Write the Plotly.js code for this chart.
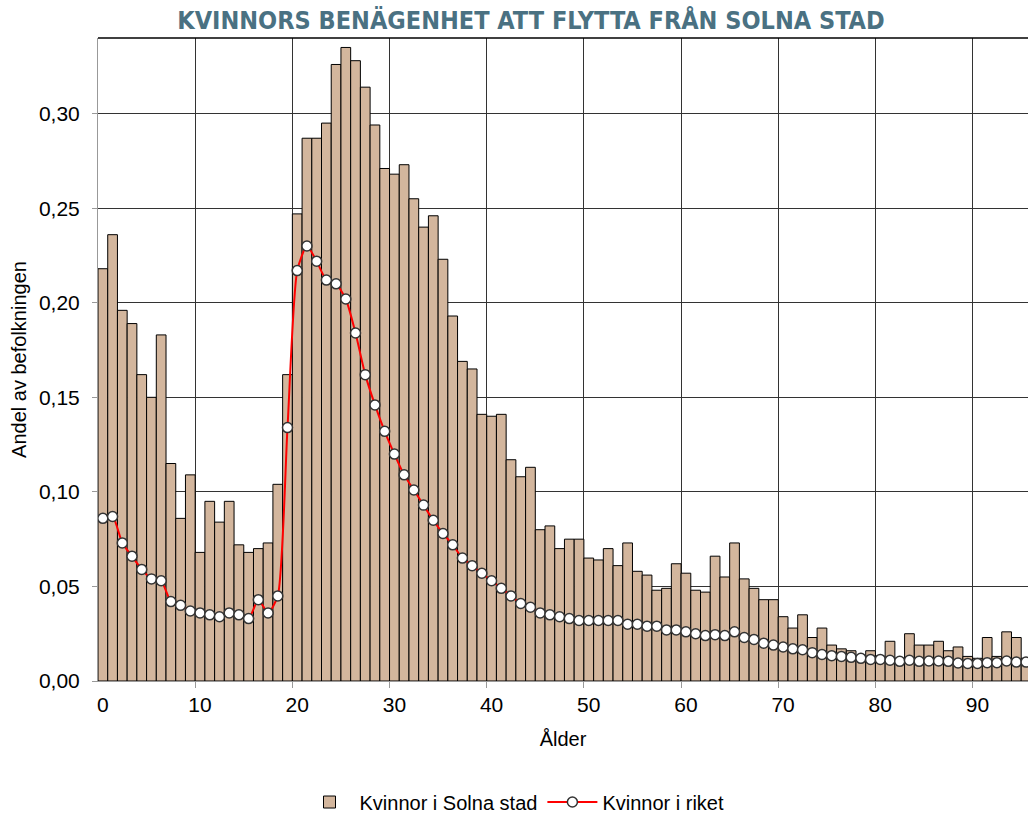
<!DOCTYPE html>
<html>
<head>
<meta charset="utf-8">
<script src="https://cdn.plot.ly/plotly-3.0.1.min.js"></script>
<style>
  body { margin: 0; padding: 0; background: #fff; }
  #chart { width: 1029px; height: 813px; }
</style>
</head>
<body>
<div id="chart"></div>
<script>
// ålder 0-95
var ages = [];
for (var a = 0; a <= 95; a++) ages.push(a);

// Kvinnor i Solna stad (staplar)
var solna = [
  0.218, 0.236, 0.196, 0.189, 0.162, 0.150, 0.183, 0.115, 0.086, 0.109,
  0.068, 0.095, 0.084, 0.095, 0.072, 0.068, 0.070, 0.073, 0.104, 0.162,
  0.247, 0.287, 0.287, 0.295, 0.326, 0.335, 0.328, 0.314, 0.294, 0.271,
  0.268, 0.273, 0.255, 0.240, 0.246, 0.223, 0.193, 0.169, 0.165, 0.141,
  0.140, 0.141, 0.117, 0.108, 0.113, 0.080, 0.082, 0.070, 0.075, 0.075,
  0.065, 0.064, 0.070, 0.061, 0.073, 0.058, 0.056, 0.048, 0.049, 0.062,
  0.057, 0.048, 0.047, 0.066, 0.055, 0.073, 0.054, 0.049, 0.043, 0.043,
  0.034, 0.028, 0.035, 0.023, 0.028, 0.019, 0.017, 0.016, 0.013, 0.016,
  0.013, 0.021, 0.012, 0.025, 0.019, 0.019, 0.021, 0.016, 0.018, 0.013,
  0.012, 0.023, 0.013, 0.026, 0.023, 0.012
];

// Kvinnor i riket (linje)
var riket = [
  0.086, 0.087, 0.073, 0.066, 0.059, 0.054, 0.053, 0.042, 0.040, 0.037,
  0.036, 0.035, 0.034, 0.036, 0.035, 0.033, 0.043, 0.036, 0.045, 0.134,
  0.217, 0.230, 0.222, 0.212, 0.210, 0.202, 0.184, 0.162, 0.146, 0.132,
  0.120, 0.109, 0.101, 0.093, 0.085, 0.078, 0.072, 0.065, 0.061, 0.057,
  0.053, 0.049, 0.045, 0.041, 0.039, 0.036, 0.035, 0.034, 0.033, 0.032,
  0.032, 0.032, 0.032, 0.032, 0.030, 0.030, 0.029, 0.029, 0.027, 0.027,
  0.026, 0.025, 0.024, 0.0245, 0.024, 0.026, 0.023, 0.022, 0.020, 0.019,
  0.018, 0.017, 0.0165, 0.015, 0.014, 0.0134, 0.013, 0.0125, 0.012, 0.0114,
  0.0114, 0.011, 0.0104, 0.011, 0.0104, 0.0106, 0.0106, 0.0104, 0.0095, 0.0093,
  0.0093, 0.0097, 0.0097, 0.0106, 0.010, 0.010
];

var xTicks = [0, 10, 20, 30, 40, 50, 60, 70, 80, 90];
var gridX = [9.5, 19.5, 29.5, 39.5, 49.5, 59.5, 69.5, 79.5, 89.5];

var font = 'Liberation Sans, Arial, sans-serif';

var bars = {
  type: 'bar',
  x: ages,
  y: solna,
  name: 'Kvinnor i Solna stad',
  marker: { color: '#d3b69d', line: { color: '#000', width: 1 } },
  hoverinfo: 'skip'
};

var line = {
  type: 'scatter',
  mode: 'lines+markers',
  x: ages,
  y: riket,
  xaxis: 'x2',
  name: 'Kvinnor i riket',
  line: { color: '#ff0000', width: 2, shape: 'spline', smoothing: 0.6 },
  marker: { symbol: 'circle', size: 10, color: '#fff', line: { color: '#333', width: 1.5 } },
  hoverinfo: 'skip'
};

var xr = [-0.5, 95.2];

var layout = {
  width: 1029,
  height: 813,
  margin: { l: 98, r: 1, t: 38, b: 132, autoexpand: false },
  paper_bgcolor: '#fff',
  plot_bgcolor: '#fff',
  separators: ', ',
  bargap: 0,
  font: { family: font, size: 20, color: '#000' },
  title: {
    text: 'KVINNORS BENÄGENHET ATT FLYTTA FRÅN SOLNA STAD',
    font: { family: 'DejaVu Sans Condensed, Liberation Sans, sans-serif', size: 25, color: '#4a7182', weight: 'bold' },
    xref: 'container', x: 0.516, xanchor: 'center',
    yref: 'container', y: 0.975, yanchor: 'middle'
  },
  xaxis: {
    range: xr,
    tickmode: 'array',
    tickvals: gridX,
    showticklabels: false,
    ticks: 'outside',
    ticklen: 6,
    tickcolor: '#999',
    showgrid: true,
    gridcolor: '#333',
    gridwidth: 1,
    showline: true,
    linecolor: '#999',
    linewidth: 1,
    zeroline: false,
    fixedrange: true
  },
  xaxis2: {
    range: xr,
    overlaying: 'x',
    anchor: 'y',
    side: 'bottom',
    tickmode: 'array',
    tickvals: xTicks,
    ticks: '',
    ticklabelstandoff: 9,
    showgrid: false,
    zeroline: false,
    showline: false,
    tickfont: { family: font, size: 21, color: '#000' },
    title: { text: 'Ålder', font: { family: font, size: 20 }, standoff: 16 },
    fixedrange: true
  },
  yaxis: {
    range: [0, 0.34],
    tick0: 0,
    dtick: 0.05,
    tickformat: '.2f',
    ticks: 'outside',
    ticklen: 5,
    tickcolor: '#999',
    ticklabelstandoff: 8,
    showgrid: true,
    gridcolor: '#333',
    gridwidth: 1,
    showline: true,
    linecolor: '#999',
    zeroline: false,
    tickfont: { family: font, size: 21, color: '#000' },
    title: { text: 'Andel av befolkningen', font: { family: font, size: 20 }, standoff: 6 },
    fixedrange: true
  },
  shapes: [{
    type: 'line', xref: 'paper', yref: 'paper',
    x0: 0, x1: 1, y0: 1, y1: 1,
    line: { color: '#000', width: 1.5 }
  }],
  showlegend: true,
  legend: {
    orientation: 'h',
    xref: 'container', x: 0.5, xanchor: 'center',
    yref: 'container', y: 0.0135, yanchor: 'middle',
    font: { family: font, size: 20 },
    itemwidth: 50
  }
};

Plotly.newPlot('chart', [bars, line], layout, { displayModeBar: false, staticPlot: true });
</script>
</body>
</html>
